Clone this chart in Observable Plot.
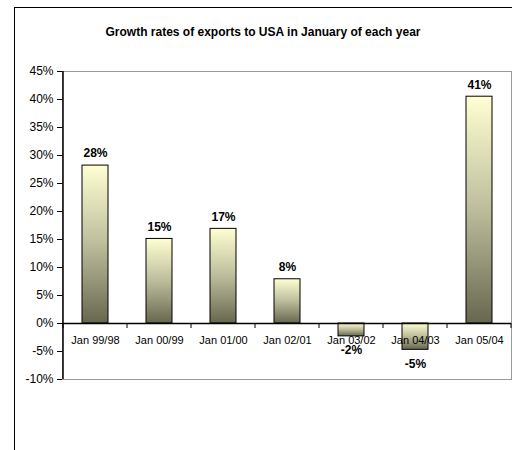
<!DOCTYPE html>
<html>
<head>
<meta charset="utf-8">
<script src="https://cdn.jsdelivr.net/npm/d3@7"></script>
<script src="https://cdn.jsdelivr.net/npm/@observablehq/plot@0.6"></script>
<style>
  html, body { margin: 0; padding: 0; background: #fff; }
  #wrap { position: relative; width: 512px; height: 450px; overflow: hidden; font-family: "Liberation Sans", Arial, sans-serif; }
  #frame { position: absolute; left: 14px; top: 7px; width: 600px; height: 600px; border-left: 1px solid #000; border-top: 1px solid #000; }
  #title { position: absolute; left: 0; width: 526px; top: 25px; text-align: center; font-weight: bold; font-size: 12px; color: #000; }
  #chart { position: absolute; left: 0; top: 0; }
</style>
</head>
<body>
<div id="wrap">
  <div id="frame"></div>
  <div id="chart"></div>
  <div id="title">Growth rates of exports to USA in January of each year</div>
</div>
<script>
const categories = ["Jan 99/98","Jan 00/99","Jan 01/00","Jan 02/01","Jan 03/02","Jan 04/03","Jan 05/04"];
const values = [28.2, 15.1, 16.9, 7.9, -2.3, -4.7, 40.5];
const labels = ["28%","15%","17%","8%","-2%","-5%","41%"];
const yTicks = [-10, -5, 0, 5, 10, 15, 20, 25, 30, 35, 40, 45];

const data = categories.map((c, i) => ({cat: c, value: values[i], label: labels[i]}));

const plot = Plot.plot({
  width: 512,
  height: 450,
  marginLeft: 62,
  marginRight: 1,
  marginTop: 71,
  marginBottom: 71,
  style: {fontFamily: "'Liberation Sans', Arial, sans-serif", fontSize: "12px", background: "transparent", color: "#000"},
  x: {domain: categories, padding: 0, axis: null},
  y: {domain: [-10, 45], axis: null},
  marks: [
    Plot.frame({stroke: "#999"}),
    Plot.axisY({ticks: yTicks, tickFormat: d => d + "%", tickSize: 5, tickPadding: 4, fontSize: 12, label: null, stroke: "#000"}),
    Plot.barY(data, {x: "cat", y: "value", fill: "url(#barGrad)", stroke: "#000", strokeWidth: 1, insetLeft: 19, insetRight: 19}),
    Plot.ruleY([0], {stroke: "#000", strokeWidth: 1.5}),
    Plot.text(data, {x: "cat", y: 0, text: "cat", dy: 17, fontSize: 11, fill: "#000"}),
    Plot.text(data.filter(d => d.value >= 0), {x: "cat", y: "value", text: "label", dy: -12, fontSize: 12, fontWeight: "bold", fill: "#000"}),
    Plot.text(data.filter(d => d.value < 0), {x: "cat", y: "value", text: "label", dy: 14, fontSize: 12, fontWeight: "bold", fill: "#000"})
  ]
});

document.getElementById("chart").appendChild(plot);

const svg = d3.select(plot);
const defs = svg.insert("defs", ":first-child");
const grad = defs.append("linearGradient").attr("id", "barGrad").attr("x1", 0).attr("y1", 0).attr("x2", 0).attr("y2", 1);
grad.append("stop").attr("offset", "0%").attr("stop-color", "#FFFFD2");
grad.append("stop").attr("offset", "50%").attr("stop-color", "#BDBD9C");
grad.append("stop").attr("offset", "100%").attr("stop-color", "#67674F");

const xs = plot.scale("x");
const ys = plot.scale("y");
const y0 = ys.apply(0);
const yTop = ys.apply(45);
const yBot = ys.apply(-10);
const g = svg.append("g").attr("stroke", "#000");
const bounds = categories.map(c => xs.apply(c));
bounds.push(xs.apply(categories[categories.length - 1]) + xs.bandwidth);
bounds.forEach(x => {
  g.append("line").attr("x1", x).attr("x2", x).attr("y1", y0).attr("y2", y0 + 5);
});
g.append("line").attr("x1", bounds[0]).attr("x2", bounds[0]).attr("y1", yTop).attr("y2", yBot).attr("stroke-width", 1.5);
</script>
</body>
</html>
